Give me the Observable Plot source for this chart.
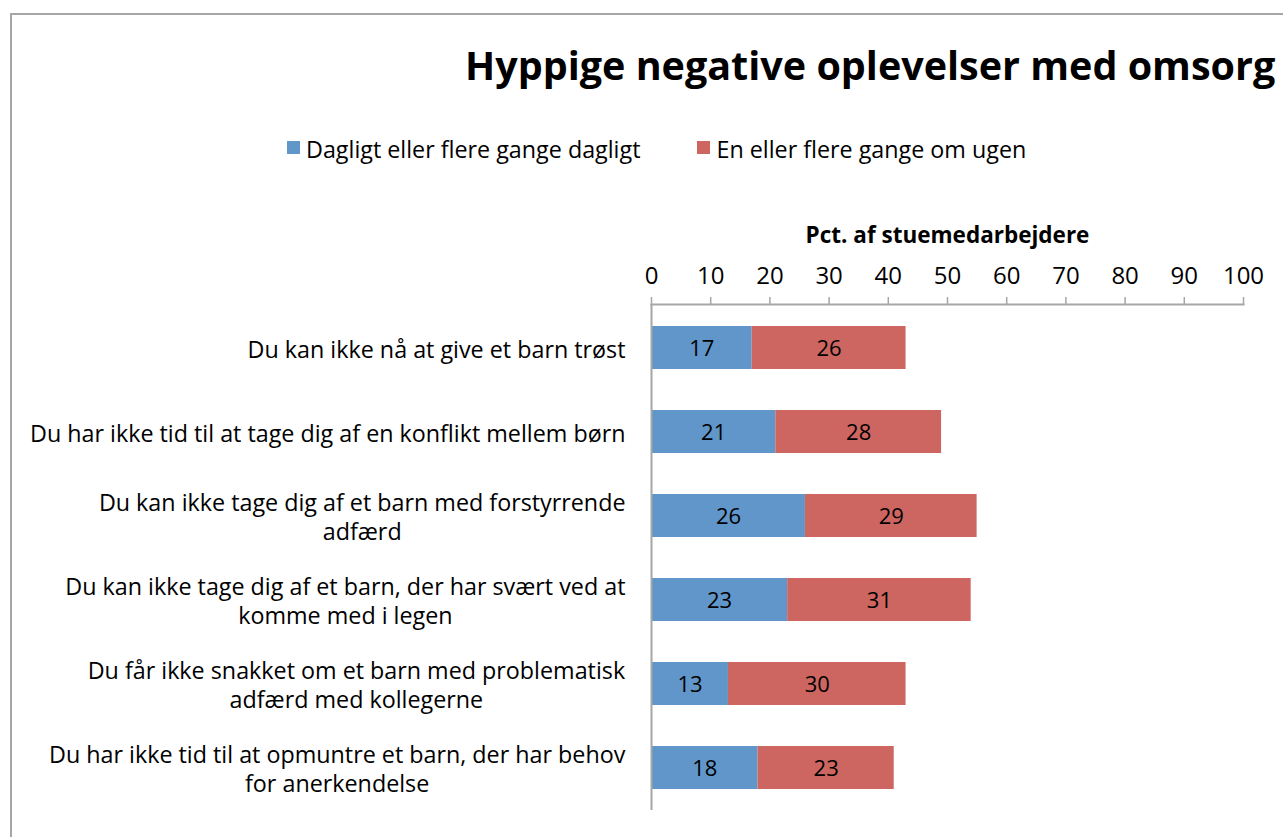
<!DOCTYPE html>
<html>
<head>
<meta charset="utf-8">
<script src="https://cdn.jsdelivr.net/npm/d3@7"></script>
<script src="https://cdn.jsdelivr.net/npm/@observablehq/plot@0.6"></script>
<style>
  html, body { margin: 0; padding: 0; background: #fff; }
  body { width: 1283px; height: 837px; overflow: hidden; position: relative; font-family: "Open Sans", sans-serif; color: #000; }
  #box { position: absolute; left: 10px; top: 13px; width: 1400px; height: 900px; border-left: 2px solid #a6a6a6; border-top: 2px solid #a6a6a6; }
  #title { position: absolute; left: 465px; top: 43px; font-size: 39.5px; line-height: 44px; font-weight: bold; white-space: nowrap; }
  #legend { position: absolute; left: 287px; top: 134px; height: 30px; line-height: 30px; font-size: 23.3px; display: flex; gap: 57px; white-space: nowrap; }
  .item { display: flex; align-items: center; }
  .sw { width: 13px; height: 13px; margin-right: 6px; margin-top: -3px; }
  #chart { position: absolute; left: 0; top: 0; }
</style>
</head>
<body>
<div id="box"></div>
<div id="title"></div>
<div id="legend"></div>
<div id="chart"></div>
<script>
const titleText = "Hyppige negative oplevelser med omsorg";
const axisTitle = "Pct. af stuemedarbejdere";
const categories = [
  "Du kan ikke nå at give et barn trøst",
  "Du har ikke tid til at tage dig af en konflikt mellem børn",
  "Du kan ikke tage dig af et barn med forstyrrende\nadfærd",
  "Du kan ikke tage dig af et barn, der har svært ved at\nkomme med i legen",
  "Du får ikke snakket om et barn med problematisk\nadfærd med kollegerne",
  "Du har ikke tid til at opmuntre et barn, der har behov\nfor anerkendelse"
];
const series = ["Dagligt eller flere gange dagligt", "En eller flere gange om ugen"];
const daily = [17, 21, 26, 23, 13, 18];
const weekly = [26, 28, 29, 31, 30, 23];
const xTicks = [0, 10, 20, 30, 40, 50, 60, 70, 80, 90, 100];
const colors = ["#6096C9", "#CD6661"];

const data = categories.flatMap((c, i) => [
  {cat: c, series: series[0], value: daily[i]},
  {cat: c, series: series[1], value: weekly[i]}
]);

document.getElementById("title").textContent = titleText;
const legend = document.getElementById("legend");
series.forEach((s, i) => {
  const it = document.createElement("div");
  it.className = "item";
  const sw = document.createElement("div");
  sw.className = "sw";
  sw.style.background = colors[i];
  const tx = document.createElement("span");
  tx.textContent = s;
  it.appendChild(sw); it.appendChild(tx);
  legend.appendChild(it);
});

const plot = Plot.plot({
  width: 1283,
  height: 837,
  marginLeft: 651,
  marginRight: 40,
  marginTop: 304,
  marginBottom: 27,
  style: {fontFamily: "'Open Sans', sans-serif", fontSize: "23px", background: "transparent", color: "black", overflow: "visible"},
  x: {domain: [0, 100], axis: null},
  y: {domain: categories, paddingInner: 0.49, paddingOuter: 0.25, axis: null},
  color: {domain: series, range: colors},
  marks: [
    Plot.barX(data, Plot.stackX({x: "value", y: "cat", fill: "series"})),
    Plot.text(data, Plot.stackX({x: "value", y: "cat", text: "value", fill: "black", fontSize: 22, dy: 1})),
    Plot.axisX({anchor: "top", ticks: xTicks, tickSize: 8, tickPadding: 13, stroke: "#a6a6a6", strokeWidth: 1.5, fill: "black", fontSize: 24, label: null}),
    Plot.frame({anchor: "top", stroke: "#a6a6a6", strokeWidth: 2}),
    Plot.ruleX([0], {stroke: "#a6a6a6", strokeWidth: 2}),
    Plot.text([axisTitle], {frameAnchor: "top", dy: -62, lineAnchor: "bottom", fontWeight: "bold", fontSize: 22.5}),
    Plot.text(categories, {y: d => d, text: d => d, frameAnchor: "left", dx: -26, textAnchor: "end", lineHeight: 1.28, fontSize: 23.3})
  ]
});
document.getElementById("chart").appendChild(plot);

// center multi-line labels within their right-aligned block (Excel style)
const flat = new Set(categories.map(c => c.replace("\n", "")));
plot.querySelectorAll("text").forEach(t => {
  if (flat.has(t.textContent)) {
    const w = t.getBBox().width;
    t.setAttribute("text-anchor", "middle");
    t.setAttribute("transform", (t.getAttribute("transform") || "") + ` translate(${-w / 2},0)`);
  }
});
</script>
</body>
</html>
